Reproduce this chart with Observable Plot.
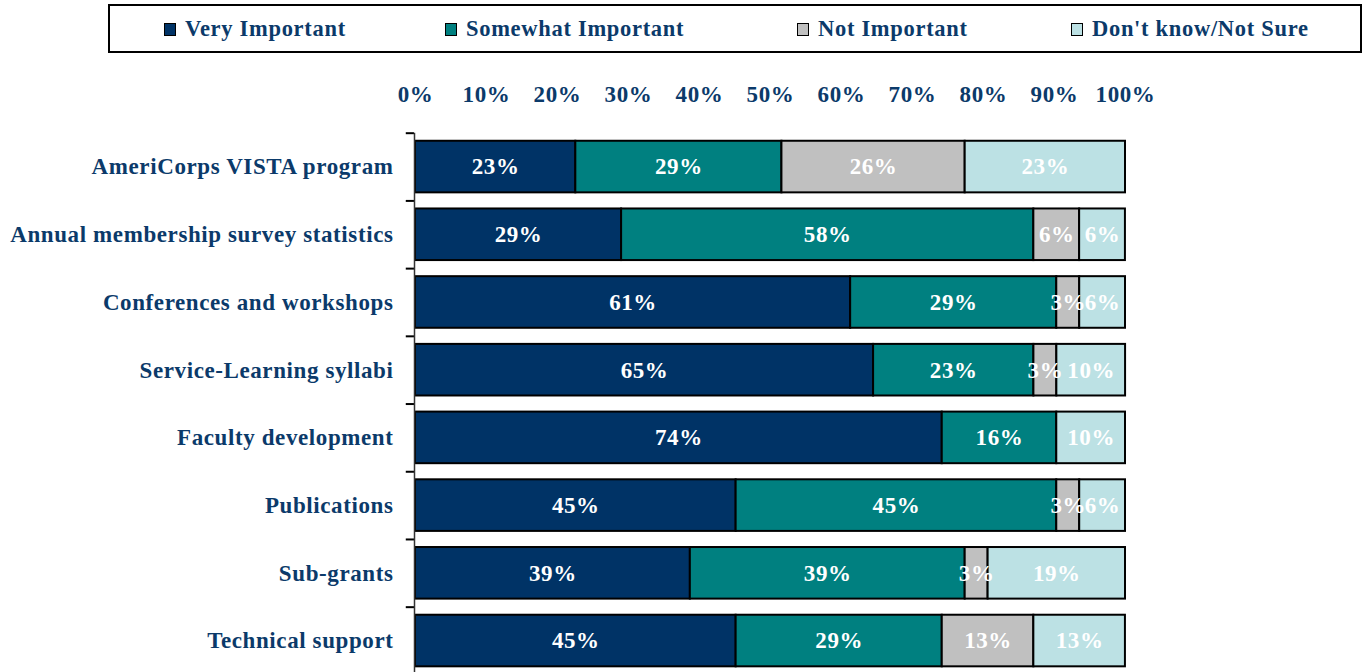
<!DOCTYPE html>
<html>
<head>
<meta charset="utf-8">
<script src="https://cdn.jsdelivr.net/npm/d3@7"></script>
<script src="https://cdn.jsdelivr.net/npm/@observablehq/plot@0.6"></script>
<style>
  html, body { margin: 0; padding: 0; background: #fff; overflow: hidden; }
  #legend { position: relative; height: 56px; }
  #legend .box { position: absolute; left: 108px; top: 4px; width: 1250px; height: 45px; border: 2px solid #000; }
  #legend .item { position: absolute; top: 18px; font-family: "Liberation Serif", "Times New Roman", serif; font-weight: bold; font-size: 22.5px; letter-spacing: 0.7px; color: #0B3A6A; white-space: nowrap; line-height: 22px; }
  #legend .sw { display: inline-block; width: 10px; height: 11px; border: 1.5px solid #000; margin-right: 9px; vertical-align: 0px; }
  #chart svg { display: block; }
</style>
</head>
<body>
<div id="legend"><div class="box"></div></div>
<div id="chart"></div>
<script>
const categories = [
  "AmeriCorps VISTA program",
  "Annual membership survey statistics",
  "Conferences and workshops",
  "Service-Learning syllabi",
  "Faculty development",
  "Publications",
  "Sub-grants",
  "Technical support"
];
const seriesNames = ["Very Important", "Somewhat Important", "Not Important", "Don't know/Not Sure"];
const veryImportant     = [22.58, 29.03, 61.29, 64.52, 74.19, 45.16, 38.71, 45.16];
const somewhatImportant = [29.03, 58.06, 29.03, 22.58, 16.13, 45.16, 38.71, 29.03];
const notImportant      = [25.81,  6.45,  3.23,  3.23,  0.00,  3.23,  3.23, 12.90];
const dontKnow          = [22.58,  6.45,  6.45,  9.68,  9.68,  6.45, 19.35, 12.90];
const xTicks = [0, 10, 20, 30, 40, 50, 60, 70, 80, 90, 100];
const colors = ["#003366", "#008080", "#C0C0C0", "#BCE1E4"];
const textColor = "#0B3A6A";

const seriesValues = [veryImportant, somewhatImportant, notImportant, dontKnow];
const data = [];
categories.forEach((c, i) => {
  seriesNames.forEach((s, j) => {
    data.push({category: c, series: s, value: seriesValues[j][i]});
  });
});
const nonZero = data.filter(d => d.value > 0);

// legend
const legendBox = document.querySelector("#legend");
const legendLefts = [164, 445, 797, 1071];
seriesNames.forEach((s, j) => {
  const it = document.createElement("div");
  it.className = "item";
  it.style.left = legendLefts[j] + "px";
  const sw = document.createElement("span");
  sw.className = "sw";
  sw.style.background = colors[j];
  it.appendChild(sw);
  it.appendChild(document.createTextNode(s));
  legendBox.appendChild(it);
});

const marginTop = 76.7;
const step = 67.71;
const height = 620;

const plot = Plot.plot({
  width: 1365,
  height: height,
  marginTop: marginTop,
  marginBottom: height - marginTop - step * 8,
  marginLeft: 415,
  marginRight: 240,
  style: {fontFamily: "'Liberation Serif', 'Times New Roman', serif", fontSize: "23px", fontWeight: "bold", color: textColor, background: "#fff", letterSpacing: "0.6px"},
  x: {domain: [0, 100], label: null},
  y: {domain: categories, paddingInner: 0.238, paddingOuter: 0.119, round: false, label: null},
  color: {domain: seriesNames, range: colors},
  marks: [
    Plot.barX(nonZero, Plot.stackX({x: "value", y: "category", fill: "series", stroke: "#000", strokeWidth: 2})),
    Plot.text(nonZero, Plot.stackX({x: "value", y: "category", text: d => Math.round(d.value) + "%", fill: "#fff", fontSize: 23, fontWeight: "bold"})),
    Plot.axisX({anchor: "top", ticks: xTicks, tickFormat: d => d + "%", tickSize: 0, tickPadding: 31, fontSize: 23, label: null}),
    Plot.axisY({tickSize: 0, tickPadding: 22, fontSize: 23, label: null}),
    Plot.ruleX([0], {dx: -1, stroke: "#333", strokeWidth: 1.5}),
    Plot.ruleY(categories, {y: d => d, x1: -1.3, x2: -0.15, dy: -step / 2, stroke: "#000", strokeWidth: 2})
  ]
});
document.querySelector("#chart").appendChild(plot);
</script>
</body>
</html>
